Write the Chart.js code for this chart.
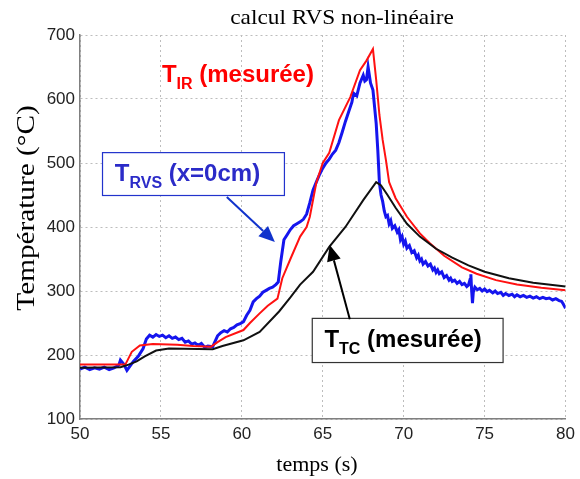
<!DOCTYPE html>
<html>
<head>
<meta charset="utf-8">
<script src="https://cdn.jsdelivr.net/npm/chart.js@4/dist/chart.umd.min.js"></script>
<style>
html,body{margin:0;padding:0;background:#fff;}
#wrap{width:580px;height:479px;position:relative;}
</style>
</head>
<body>
<div id="wrap"><canvas id="c" width="580" height="479"></canvas></div>
<script>
// ---- data ----
const xTicks = [50, 55, 60, 65, 70, 75, 80];
const yTicks = [100, 200, 300, 400, 500, 600, 700];

const timeIR = [50, 52.8, 53.2, 53.7, 54.5, 56, 57, 58.1, 58.5, 59, 60.1, 60.5, 61.1, 61.6, 62.2, 62.5, 63.0, 63.6, 64.0, 64.2, 64.6, 65.0, 65.4, 66.0, 66.7, 67.3, 67.7, 68.1, 68.3, 68.5, 68.7, 68.9, 69.1, 69.5, 70.2, 71, 71.6, 72.5, 73.6, 74.5, 75.7, 77, 78.5, 80];
const tempIR = [185, 185, 205, 215, 217, 216, 214, 213, 220, 228, 239, 250, 265, 277, 288, 320, 350, 385, 400, 416, 469, 500, 516, 567, 603, 645, 660, 678, 630, 575, 536, 505, 470, 445, 416, 390, 375, 355, 337, 327, 317, 310, 305, 301];

const timeTC = [50, 52.5, 53, 53.5, 54, 54.7, 55.5, 58.2, 58.8, 60.1, 61.1, 62.3, 63, 63.6, 64.4, 65.4, 66.4, 67.5, 68.3, 68.6, 69, 69.5, 70.2, 71, 72, 73, 74, 75, 76.5, 78, 80];
const tempTC = [180, 181, 185, 190, 198, 207, 210, 209, 214, 223, 236, 268, 290, 310, 330, 369, 400, 442, 470, 465, 450, 430, 405, 385, 366, 352, 340, 330, 320, 313, 307];

const timeRVS = [50, 50.3, 50.6, 50.9, 51.2, 51.5, 51.8, 52.1, 52.4, 52.5, 52.7, 52.9, 53.1, 53.3, 53.6, 53.9, 54.1, 54.3, 54.5, 54.7, 54.9, 55.1, 55.3, 55.5, 55.7, 55.9, 56.1, 56.3, 56.5, 56.7, 56.9, 57.1, 57.3, 57.5, 57.7, 57.9, 58.2, 58.5, 58.7, 58.9, 59.1, 59.3, 59.5, 59.7, 59.9, 60.1, 60.3, 60.5, 60.7, 60.9, 61.1, 61.3, 61.5, 61.7, 61.9, 62.1, 62.25, 62.4, 62.6, 62.8, 63.0, 63.2, 63.4, 63.6, 63.8, 64.0, 64.2, 64.4, 64.6, 64.8, 65.0, 65.2, 65.4, 65.6, 65.8, 66.0, 66.2, 66.4, 66.6, 66.8, 66.9, 67.1, 67.3, 67.5, 67.6, 67.7, 67.8, 67.95, 68.1, 68.3, 68.4, 68.5, 68.6, 68.7, 68.8, 68.9, 69.0, 69.1, 69.2, 69.3, 69.45, 69.6, 69.7, 69.8, 69.9, 70.0, 70.1, 70.2, 70.35, 70.5, 70.65, 70.8, 70.9, 71.0, 71.1, 71.2, 71.35, 71.5, 71.65, 71.8, 71.9, 72.0, 72.1, 72.2, 72.35, 72.5, 72.65, 72.8, 72.9, 73.0, 73.15, 73.3, 73.45, 73.6, 73.75, 73.9, 74.0, 74.1, 74.15, 74.2, 74.25, 74.3, 74.4, 74.55, 74.7, 74.85, 75.0, 75.15, 75.3, 75.5, 75.65, 75.8, 76.0, 76.15, 76.3, 76.5, 76.7, 76.85, 77.0, 77.2, 77.4, 77.6, 77.8, 78.0, 78.2, 78.4, 78.6, 78.8, 79.0, 79.2, 79.4, 79.6, 79.75, 79.85, 80];
const tempRVS = [178, 181, 177, 180, 178, 181, 177, 180, 184, 192, 186, 176, 183, 190, 198, 210, 225, 231, 228, 232, 229, 231, 227, 230, 226, 228, 224, 226, 220, 222, 217, 219, 215, 218, 212, 214, 213, 230, 235, 238, 236, 241, 243, 247, 249, 252, 262, 270, 283, 288, 292, 298, 301, 304, 306, 310, 314, 345, 380, 388, 396, 402, 405, 408, 412, 420, 438, 458, 470, 482, 492, 500, 506, 514, 520, 532, 548, 565, 580, 595, 609, 605, 625, 637, 628, 630, 650, 625, 614, 562, 520, 469, 450, 440, 425, 416, 418, 405, 410, 398, 402, 392, 396, 380, 385, 373, 378, 367, 371, 360, 363, 352, 356, 347, 350, 342, 346, 339, 342, 333, 336, 329, 333, 327, 330, 321, 324, 317, 320, 315, 317, 312, 315, 310, 312, 307, 309, 318, 326, 300, 281, 298, 306, 302, 304, 300, 303, 299, 301, 297, 300, 296, 298, 293, 296, 293, 295, 291, 294, 291, 293, 290, 292, 289, 291, 288, 290, 288, 289, 286, 288, 285, 284, 280, 273];

const titleText = "calcul RVS non-linéaire";
const xTitle = "temps (s)";
const yTitle = "Température (°C)";

function pts(xs, ys) { return xs.map((x, i) => ({ x: x, y: ys[i] })); }

const annotPlugin = {
  id: 'annot',
  afterDraw(chart) {
    const ctx = chart.ctx;
    const xs = chart.scales.x, ys = chart.scales.y;
    const px = v => xs.getPixelForValue(v);
    const py = v => ys.getPixelForValue(v);
    ctx.save();
    // titles
    ctx.fillStyle = '#000';
    ctx.textAlign = 'center';
    ctx.textBaseline = 'middle';
    ctx.save();
    ctx.translate(342, 18);
    ctx.scale(1.06, 1);
    ctx.font = '22px "Liberation Serif"';
    ctx.fillText(titleText, 0, 0);
    ctx.restore();
    ctx.font = '22px "Liberation Serif"';
    ctx.fillText(xTitle, 317, 465);
    ctx.save();
    ctx.translate(27, 208);
    ctx.rotate(-Math.PI / 2);
    ctx.scale(1.17, 1);
    ctx.font = '25px "Liberation Serif"';
    ctx.fillText(yTitle, 0, 0);
    ctx.restore();

    function label(x, y, main, sub, rest, color) {
      ctx.textAlign = 'left';
      ctx.textBaseline = 'alphabetic';
      ctx.fillStyle = color;
      ctx.font = 'bold 24px "Liberation Sans"';
      ctx.fillText(main, x, y);
      let w = ctx.measureText(main).width;
      ctx.font = 'bold 16px "Liberation Sans"';
      ctx.fillText(sub, x + w, y + 7);
      w += ctx.measureText(sub).width;
      ctx.font = 'bold 24px "Liberation Sans"';
      ctx.fillText(rest, x + w, y);
    }
    function arrow(x1, y1, x2, y2, color) {
      ctx.strokeStyle = color; ctx.fillStyle = color; ctx.lineWidth = 2;
      const a = Math.atan2(y2 - y1, x2 - x1);
      const L = 16, W = 7;
      const bx = x2 - L * Math.cos(a), by = y2 - L * Math.sin(a);
      ctx.beginPath(); ctx.moveTo(x1, y1); ctx.lineTo(bx, by); ctx.stroke();
      ctx.beginPath();
      ctx.moveTo(x2, y2);
      ctx.lineTo(bx + W * Math.sin(a), by - W * Math.cos(a));
      ctx.lineTo(bx - W * Math.sin(a), by + W * Math.cos(a));
      ctx.closePath(); ctx.fill();
    }
    // red label
    label(px(55.06), py(626), 'T', 'IR', ' (mesurée)', '#ff0000');
    // blue box
    ctx.fillStyle = '#fff';
    ctx.fillRect(px(51.36), py(517), px(62.6) - px(51.36), py(450) - py(517));
    ctx.strokeStyle = '#2233cc'; ctx.lineWidth = 1.2;
    ctx.strokeRect(px(51.36) + 0.5, py(517) + 0.5, px(62.6) - px(51.36), py(450) - py(517));
    label(px(52.15), py(472), 'T', 'RVS', ' (x=0cm)', '#2b2bc8');
    arrow(px(59.07), py(447), px(62.04), py(376.5), '#1133cc');
    // black box
    ctx.fillStyle = '#fff';
    ctx.fillRect(px(64.32), py(258), px(76.11) - px(64.32), py(189) - py(258));
    ctx.strokeStyle = '#333'; ctx.lineWidth = 1.2;
    ctx.strokeRect(px(64.32) + 0.5, py(258) + 0.5, px(76.11) - px(64.32), py(189) - py(258));
    label(px(65.1), py(212), 'T', 'TC', ' (mesurée)', '#000');
    arrow(px(66.67), py(256), px(65.43), py(372), '#000');
    ctx.restore();
  }
};

new Chart(document.getElementById('c'), {
  type: 'line',
  data: {
    datasets: [
      { label: 'T_TC', data: pts(timeTC, tempTC), borderColor: '#111', borderWidth: 2, pointRadius: 0, tension: 0 },
      { label: 'T_IR', data: pts(timeIR, tempIR), borderColor: '#ff1111', borderWidth: 2, pointRadius: 0, tension: 0 },
      { label: 'T_RVS', data: pts(timeRVS, tempRVS), borderColor: '#1515ee', borderWidth: 3, pointRadius: 0, tension: 0 }
    ]
  },
  options: {
    responsive: false,
    animation: false,
    events: [],
    layout: { padding: { top: 35, right: 14, left: 0, bottom: 0 } },
    plugins: { legend: { display: false }, title: { display: false }, tooltip: { enabled: false } },
    scales: {
      x: {
        type: 'linear', min: 50, max: 80,
        afterBuildTicks: s => { s.ticks = xTicks.map(v => ({ value: v })); },
        afterFit: s => { s.height = 60; },
        ticks: { color: '#222', font: { family: '"Liberation Sans"', size: 17 }, padding: 5, maxRotation: 0, autoSkip: false },
        grid: { color: '#bdbdbd', lineWidth: 1, drawTicks: false },
        border: { display: true, color: '#808080', width: 1.5, dash: [2, 3] }
      },
      y: {
        type: 'linear', min: 100, max: 700,
        afterBuildTicks: s => { s.ticks = yTicks.map(v => ({ value: v })); },
        afterFit: s => { s.width = 80; },
        ticks: { color: '#222', font: { family: '"Liberation Sans"', size: 17 }, padding: 5, autoSkip: false },
        grid: { color: '#bdbdbd', lineWidth: 1, drawTicks: false },
        border: { display: true, color: '#808080', width: 1.5, dash: [2, 3] }
      }
    }
  },
  plugins: [annotPlugin]
});
</script>
</body>
</html>
